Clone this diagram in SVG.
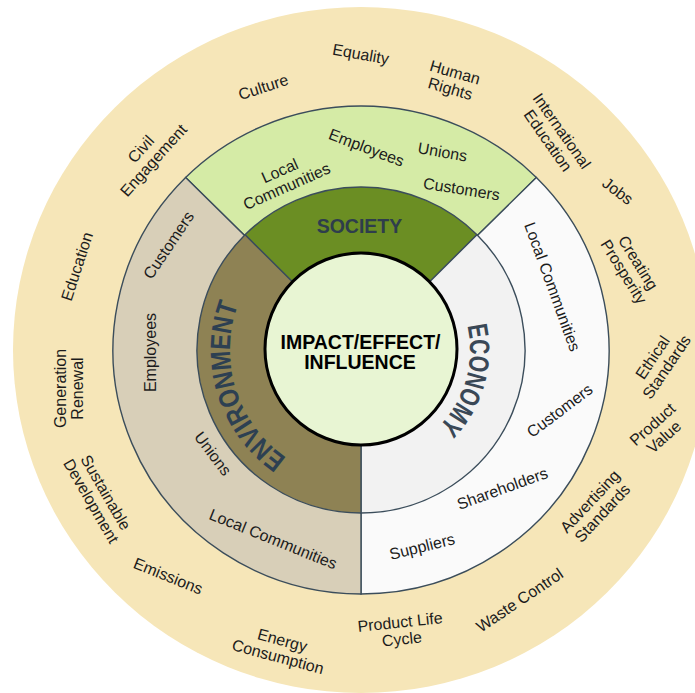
<svg xmlns="http://www.w3.org/2000/svg" width="695" height="693" viewBox="0 0 695 693">
<defs>
<style>
.lbl{font-family:"Liberation Sans",Arial,sans-serif;font-size:16px;fill:#1c1c1c;text-anchor:middle}
.ring{stroke:#3b4d5b;stroke-width:1.4}
.seg{font-family:"Liberation Sans",Arial,sans-serif;font-weight:bold;text-anchor:middle}
</style>
<path id="envArc" d="M 332.65 477.9 A 131 131 0 0 1 264.41 261.5"/>
<path id="ecoArc" d="M 439.08 273.94 A 109 109 0 0 1 387.83 455.64"/>
</defs>
<rect width="695" height="693" fill="#ffffff"/>
<g id="outer-ring">
<ellipse cx="361" cy="350" rx="348" ry="343" fill="#f6e6b8"/>
<text class="lbl" transform="translate(147.5,155) rotate(-48)"><tspan x="0" y="-3.5">Civil</tspan><tspan x="0" y="13.5">Engagement</tspan></text>
<text class="lbl" transform="translate(263.5,87.5) rotate(-18)"><tspan x="0" y="5">Culture</tspan></text>
<text class="lbl" transform="translate(360.5,55.5) rotate(10)"><tspan x="0" y="4">Equality</tspan></text>
<text class="lbl" transform="translate(452.5,81) rotate(16)"><tspan x="0" y="-3.5">Human</tspan><tspan x="0" y="13.5">Rights</tspan></text>
<text class="lbl" transform="translate(554.5,136) rotate(55)"><tspan x="0" y="-3.5">International</tspan><tspan x="0" y="13.5">Education</tspan></text>
<text class="lbl" transform="translate(617.5,191.5) rotate(37)"><tspan x="0" y="5">Jobs</tspan></text>
<text class="lbl" transform="translate(630.5,267.5) rotate(58)"><tspan x="0" y="-3.5">Creating</tspan><tspan x="0" y="13.5">Prosperity</tspan></text>
<text class="lbl" transform="translate(660,362.5) rotate(-56)"><tspan x="0" y="-3.5">Ethical</tspan><tspan x="0" y="13.5">Standards</tspan></text>
<text class="lbl" transform="translate(658.5,431) rotate(-42)"><tspan x="0" y="-3.5">Product</tspan><tspan x="0" y="13.5">Value</tspan></text>
<text class="lbl" transform="translate(596.5,507.5) rotate(-47)"><tspan x="0" y="-3.5">Advertising</tspan><tspan x="0" y="13.5">Standards</tspan></text>
<text class="lbl" transform="translate(520,600.5) rotate(-34)"><tspan x="0" y="5">Waste Control</tspan></text>
<text class="lbl" transform="translate(401,631) rotate(-6)"><tspan x="0" y="-3.5">Product Life</tspan><tspan x="0" y="13.5">Cycle</tspan></text>
<text class="lbl" transform="translate(280,649) rotate(15)"><tspan x="0" y="-3.5">Energy</tspan><tspan x="0" y="13.5">Consumption</tspan></text>
<text class="lbl" transform="translate(168,576.5) rotate(22)"><tspan x="0" y="5">Emissions</tspan></text>
<text class="lbl" transform="translate(98,497) rotate(60)"><tspan x="0" y="-3.5">Sustainable</tspan><tspan x="0" y="13.5">Development</tspan></text>
<text class="lbl" transform="translate(69.5,388.5) rotate(-90)"><tspan x="0" y="-3.5">Generation</tspan><tspan x="0" y="13.5">Renewal</tspan></text>
<text class="lbl" transform="translate(77.5,266.5) rotate(-72)"><tspan x="0" y="5">Education</tspan></text>
</g>
<g id="society">
<path class="ring" d="M361,350 L185.64,177.47 A248,244 0 0 1 536.36,177.47 Z" fill="#d5eba6"/>
<text class="lbl" transform="translate(283.5,179) rotate(-24)"><tspan x="0" y="-3.5">Local</tspan><tspan x="0" y="13.5">Communities</tspan></text>
<text class="lbl" transform="translate(366,149) rotate(21)"><tspan x="0" y="4">Employees</tspan></text>
<text class="lbl" transform="translate(442.5,152.5) rotate(10)"><tspan x="0" y="5">Unions</tspan></text>
<text class="lbl" transform="translate(461.5,189.5) rotate(9)"><tspan x="0" y="5">Customers</tspan></text>
</g>
<g id="economy">
<path class="ring" d="M361,350 L536.36,177.47 A248,244 0 0 1 361,594 Z" fill="#fafafa"/>
<text class="lbl" transform="translate(552,287) rotate(70)"><tspan x="0" y="5">Local Communities</tspan></text>
<text class="lbl" transform="translate(560,411) rotate(-37)"><tspan x="0" y="5">Customers</tspan></text>
<text class="lbl" transform="translate(502.5,489) rotate(-20)"><tspan x="0" y="5">Shareholders</tspan></text>
<text class="lbl" transform="translate(422.5,548) rotate(-14)"><tspan x="0" y="4">Suppliers</tspan></text>
</g>
<g id="environment">
<path class="ring" d="M361,350 L361,594 A248,244 0 0 1 185.64,177.47 Z" fill="#d8cfb8"/>
<text class="lbl" transform="translate(169,245.5) rotate(-56)"><tspan x="0" y="5">Customers</tspan></text>
<text class="lbl" transform="translate(151,352.5) rotate(-90)"><tspan x="0" y="5">Employees</tspan></text>
<text class="lbl" transform="translate(212.5,454) rotate(53)"><tspan x="0" y="5">Unions</tspan></text>
<text class="lbl" transform="translate(273,539.5) rotate(22)"><tspan x="0" y="5">Local Communities</tspan></text>
</g>
<g id="society-core">
<path class="ring" d="M361,350 L245.03,234.74 A164,163 0 0 1 476.97,234.74 Z" fill="#6b8e23"/>
<text class="seg" x="359.5" y="233" font-size="19.5" fill="#2e3d4c">SOCIETY</text>
</g>
<g id="economy-core">
<path class="ring" d="M361,350 L476.97,234.74 A164,163 0 0 1 361,513 Z" fill="#f2f2f2"/>
<text class="seg" font-size="28" fill="#3a4856"><textPath href="#ecoArc" startOffset="50%" textLength="109" lengthAdjust="spacingAndGlyphs">ECONOMY</textPath></text>
</g>
<g id="environment-core">
<path class="ring" d="M361,350 L361,513 A164,163 0 0 1 245.03,234.74 Z" fill="#8e8254"/>
<text class="seg" font-size="28" fill="#2d4052"><textPath href="#envArc" startOffset="50%" textLength="173" lengthAdjust="spacingAndGlyphs">ENVIRONMENT</textPath></text>
</g>
<g id="impact">
<circle cx="361" cy="349" r="96" fill="#e8f5d3" stroke="#000000" stroke-width="3"/>
<text class="seg" font-size="19.5" fill="#000000"><tspan x="360.5" y="349">IMPACT/EFFECT/</tspan><tspan x="360" y="368.5">INFLUENCE</tspan></text>
</g>
<g id="connectors"></g>
</svg>
